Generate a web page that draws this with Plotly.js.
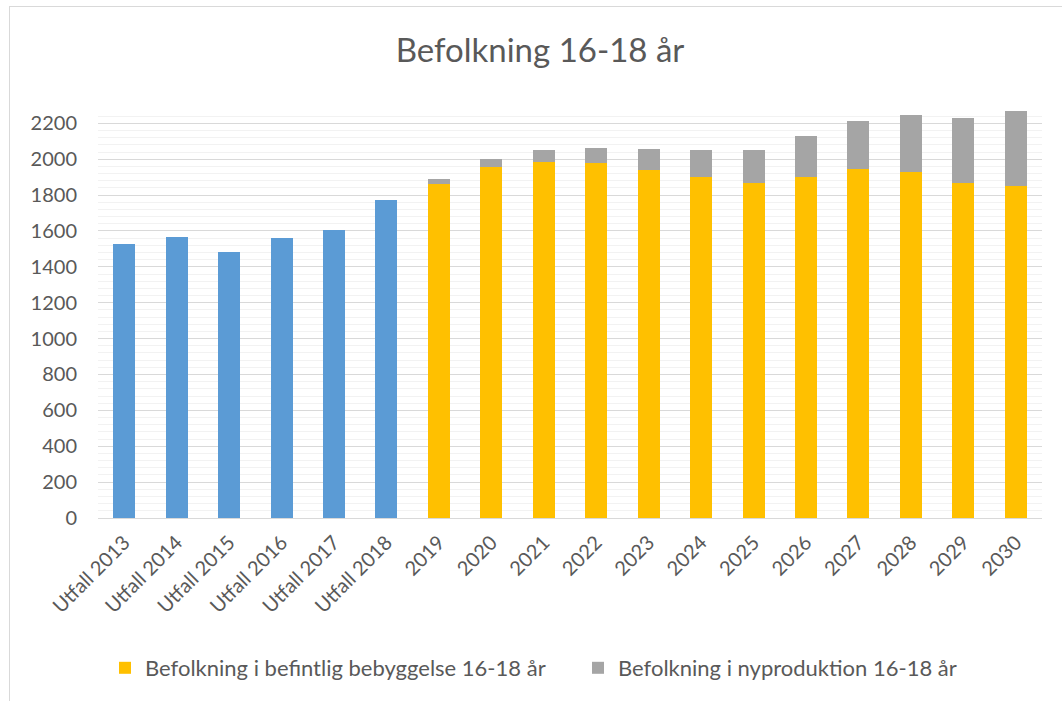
<!DOCTYPE html>
<html>
<head>
<meta charset="utf-8">
<script src="https://cdn.plot.ly/plotly-3.0.1.min.js"></script>
<style>
  html, body { margin: 0; padding: 0; background: #fff; }
  #wrap { position: relative; width: 1062px; height: 701px; overflow: hidden; }
  #chart { position: absolute; left: 0; top: 0; width: 1062px; height: 701px; }
  #frame { position: absolute; left: 9px; top: 6px; width: 1100px; height: 800px;
           border-top: 1px solid #d9d9d9; border-left: 1px solid #d9d9d9; pointer-events: none; }
</style>
</head>
<body>
<div id="wrap">
  <div id="chart"></div>
  <div id="frame"></div>
</div>
<script>
const categories = ["Utfall 2013", "Utfall 2014", "Utfall 2015", "Utfall 2016", "Utfall 2017", "Utfall 2018",
  "2019", "2020", "2021", "2022", "2023", "2024", "2025", "2026", "2027", "2028", "2029", "2030"];
const utfall = [1528, 1567, 1484, 1562, 1606, 1773,
  null, null, null, null, null, null, null, null, null, null, null, null];
const befintlig = [null, null, null, null, null, null,
  1864, 1955, 1985, 1978, 1939, 1901, 1866, 1900, 1946, 1929, 1866, 1851];
const nyproduktion = [null, null, null, null, null, null,
  24, 45, 65, 87, 118, 153, 188, 230, 269, 318, 366, 420];

const seriesNames = ["Utfall", "Befolkning i befintlig bebyggelse 16-18 år", "Befolkning i nyproduktion 16-18 år"];
const titleText = "Befolkning 16-18 år";

const FONT = "Lato, 'Open Sans', sans-serif";
const TXT = "#595959";

const traces = [
  { type: "bar", x: categories, y: utfall, name: seriesNames[0], marker: { color: "#5b9bd5" }, showlegend: false },
  { type: "bar", x: categories, y: befintlig, name: seriesNames[1], marker: { color: "#ffc000" } },
  { type: "bar", x: categories, y: nyproduktion, name: seriesNames[2], marker: { color: "#a5a5a5" } }
];

const layout = {
  width: 1062, height: 701,
  paper_bgcolor: "rgba(0,0,0,0)", plot_bgcolor: "rgba(0,0,0,0)",
  margin: { l: 98, r: 20, t: 109, b: 183 },
  barmode: "stack",
  bargap: 0.58,
  font: { family: FONT, color: TXT, size: 20 },
  title: { text: titleText, font: { family: FONT, size: 33, color: TXT },
           x: 540 / 1062, xanchor: "center", xref: "container", y: 1 - 50/701, yref: "container", yanchor: "middle" },
  xaxis: {
    type: "category", tickangle: -45, showgrid: false, zeroline: false,
    showline: true, linecolor: "#d9d9d9", linewidth: 1, ticks: "",
    tickfont: { family: FONT, size: 20, color: TXT }, ticklabelstandoff: 4
  },
  yaxis: {
    range: [0, 2280], dtick: 200, tick0: 0, showgrid: true, gridcolor: "#d9d9d9", gridwidth: 1,
    zeroline: false, showline: false, ticks: "",
    tickfont: { family: FONT, size: 20, color: TXT }, ticklabelstandoff: 20,
    minor: { dtick: 40, tick0: 0, showgrid: true, gridcolor: "#f2f2f2", gridwidth: 1 }
  },
  legend: {
    orientation: "h", xref: "container", yref: "container", x: 105 / 1062, xanchor: "left",
    y: (701 - 668) / 701, yanchor: "middle", font: { family: FONT, size: 22, color: TXT },
    traceorder: "normal", itemsizing: "constant", itemwidth: 30,
    entrywidth: 428, entrywidthmode: "pixels"
  },
  showlegend: true
};

Plotly.newPlot("chart", traces, layout, { displayModeBar: false, staticPlot: true });
</script>
</body>
</html>
